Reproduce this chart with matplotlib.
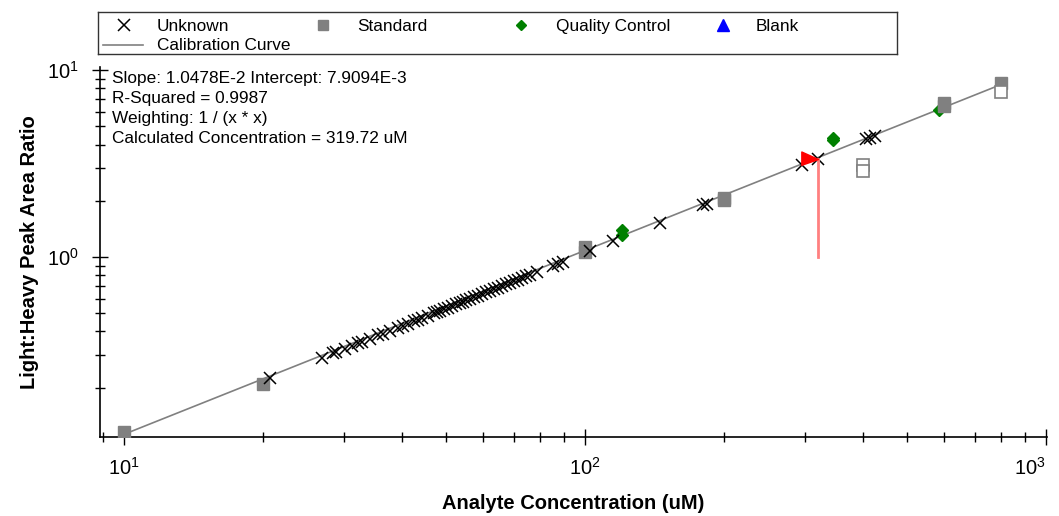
import matplotlib
matplotlib.use("Agg")
import matplotlib.pyplot as plt
from matplotlib.ticker import LogLocator, NullFormatter

plt.rcParams['font.family'] = ['Liberation Sans', 'DejaVu Sans']
plt.rcParams['mathtext.fontset'] = 'custom'
plt.rcParams['mathtext.rm'] = 'Liberation Sans'
plt.rcParams['mathtext.default'] = 'regular'

# fit results
slope = 1.0478e-2
intercept = 7.9094e-3
calc_conc = 319.72
calc_ratio = 3.358

# calibration curve end points
curve_x = [10, 800]

# standards (filled = used, open = excluded)
std_x = [10, 20, 100, 100, 200, 200, 600, 600, 800]
std_y = [0.116, 0.209, 1.13, 1.06, 2.06, 2.01, 6.70, 6.45, 8.50]
excl_x = [400, 400, 800]
excl_y = [3.10, 2.88, 7.63]

# quality control
qc_x = [120, 120, 345, 345, 585]
qc_y = [1.39, 1.32, 4.33, 4.22, 6.11]

# unknowns
unk_x = [20.7, 26.9, 28.4, 28.8, 30.2, 31.2, 32.2, 32.8, 34.2, 35.6, 36.5, 37.8,
         39.3, 40.3, 41.3, 42.6, 43.4, 44.3, 45.6, 47.0, 47.8, 48.5, 49.4, 50.4,
         51.4, 52.5, 53.6, 54.4, 55.2, 56.3, 57.4, 58.6, 59.8, 61.0, 62.2, 63.5,
         64.8, 66.1, 67.4, 68.8, 70.2, 71.6, 73.0, 74.5, 76.0, 78.7, 85.2, 87.4,
         89.6, 102.5, 115, 145.4, 180.3, 183.9, 295.6, 319.72, 407, 415, 425.6]
unk_y = [0.225, 0.290, 0.306, 0.310, 0.324, 0.335, 0.345, 0.352, 0.366, 0.381, 0.390, 0.404,
         0.420, 0.430, 0.441, 0.454, 0.463, 0.472, 0.486, 0.500, 0.509, 0.516, 0.526, 0.536,
         0.546, 0.558, 0.570, 0.578, 0.586, 0.598, 0.609, 0.622, 0.634, 0.647, 0.660, 0.673,
         0.687, 0.700, 0.714, 0.729, 0.743, 0.758, 0.773, 0.788, 0.804, 0.832, 0.901, 0.924,
         0.947, 1.082, 1.213, 1.531, 1.897, 1.935, 3.105, 3.358, 4.272, 4.356, 4.467]

info_lines = [
    "Slope: 1.0478E-2 Intercept: 7.9094E-3",
    "R-Squared = 0.9987",
    "Weighting: 1 / (x * x)",
    "Calculated Concentration = 319.72 uM",
]

W, H = 1059, 516
fig = plt.figure(figsize=(W / 100, H / 100), dpi=100)
ax = fig.add_axes([100 / W, 1 - 437 / H, 947 / W, 370 / H])

curve_y = [slope * x + intercept for x in curve_x]
ax.plot(curve_x, curve_y, color='#808080', lw=1.2, zorder=1)

ax.plot(qc_x, qc_y, 'D', color='#008000', ms=6.5, ls='none', zorder=2)
ax.plot(std_x, std_y, 's', color='#808080', ms=8.5, ls='none', zorder=3)
ax.plot(excl_x, excl_y, 's', mfc='white', mec='#808080', mew=1.2, ms=8, ls='none', zorder=3)
ax.plot(unk_x, unk_y, 'x', color='black', ms=9, mew=1.1, ls='none', zorder=4)

# calculated concentration marker
ax.plot([calc_conc, calc_conc], [1.0, calc_ratio], color='#ff8080', lw=2, zorder=5)
flag = [(0, 0), (-1, 0.45), (-1, -0.35), (0, 0)]
ax.plot([calc_conc], [calc_ratio], marker=flag, color='red', ms=24, ls='none', zorder=5)

ax.set_xscale('log')
ax.set_yscale('log')
ax.set_xlim(8.87, 1005)
ax.set_ylim(0.109, 10.4)

for side in ['top', 'right']:
    ax.spines[side].set_visible(False)
for side in ['left', 'bottom']:
    ax.spines[side].set_linewidth(1.2)

ax.xaxis.set_minor_locator(LogLocator(base=10, subs=range(2, 10)))
ax.yaxis.set_minor_locator(LogLocator(base=10, subs=range(2, 10)))
ax.xaxis.set_minor_formatter(NullFormatter())
ax.yaxis.set_minor_formatter(NullFormatter())
ax.tick_params(which='major', direction='inout', length=12, width=1, labelsize=14.5)
ax.tick_params(which='minor', direction='inout', length=7, width=1)
ax.tick_params(axis='x', which='major', pad=8)
ax.tick_params(axis='y', which='major', pad=9)

ax.set_xlabel('Analyte Concentration (uM)', fontsize=14.5, fontweight='bold', labelpad=11)
ax.set_ylabel('Light:Heavy Peak Area Ratio', fontsize=14.5, fontweight='bold', labelpad=6)

for i, line in enumerate(info_lines):
    fig.text(112 / W, 1 - (78 + 20.3 * i) / H, line, fontsize=12.4, va='center', ha='left')

# legend box drawn by hand so the columns sit at fixed places
lax = fig.add_axes([98 / W, 1 - 54 / H, 799 / W, 42 / H])
lax.set_xlim(0, 799)
lax.set_ylim(42, 0)
lax.set_xticks([])
lax.set_yticks([])
for s in lax.spines.values():
    s.set_linewidth(1.0)
    s.set_color('#333333')

fs = 12.4
lax.plot([26], [13.5], 'x', color='black', ms=9, mew=1.1)
lax.text(59, 14.5, 'Unknown', fontsize=fs, va='center')
lax.plot([225], [13.5], 's', color='#808080', ms=7.5)
lax.text(259, 14.5, 'Standard', fontsize=fs, va='center')
lax.plot([423], [13.5], 'D', color='#008000', ms=5.5)
lax.text(458, 14.5, 'Quality Control', fontsize=fs, va='center')
lax.plot([625], [13.5], '^', color='blue', ms=8)
lax.text(658, 14.5, 'Blank', fontsize=fs, va='center')
lax.plot([5, 45], [33.5, 33.5], color='#808080', lw=1.2)
lax.text(59, 34, 'Calibration Curve', fontsize=fs, va='center')

# keep the last x tick label inside the figure
fig.canvas.draw()
for tick in ax.xaxis.get_major_ticks():
    if abs(tick.get_loc() - 1000) < 1:
        tick.label1.set_horizontalalignment('right')
        tick.label1.set_x(1000)

fig.savefig('out.png', dpi=100)
